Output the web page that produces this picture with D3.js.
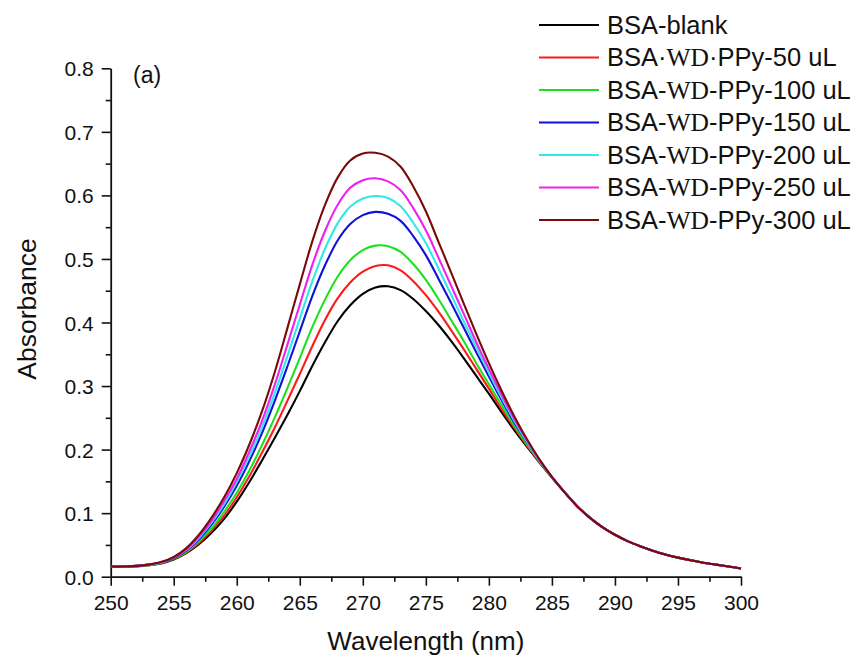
<!DOCTYPE html>
<html>
<head>
<meta charset="utf-8">
<script src="https://cdn.jsdelivr.net/npm/d3@7"></script>
<style>
  html, body { margin: 0; padding: 0; background: #fff; }
  svg { display: block; font-family: "Liberation Sans", Arial, sans-serif; }
</style>
</head>
<body>
<svg id="chart" width="861" height="659"></svg>
<script>
// UV-Vis absorbance spectra of BSA with increasing WD-PPy additions, 250-300 nm at 1 nm steps
const wavelengths = d3.range(250, 301, 1);

const bsaBlank = [0.016, 0.016, 0.016, 0.018, 0.021, 0.027, 0.037, 0.051, 0.069, 0.091,
  0.118, 0.149, 0.183, 0.218, 0.254, 0.292, 0.332, 0.369, 0.402, 0.427,
  0.445, 0.455, 0.457, 0.451, 0.437, 0.418, 0.396, 0.371, 0.344, 0.316,
  0.288, 0.259, 0.231, 0.205, 0.180, 0.156, 0.133, 0.111, 0.093, 0.078,
  0.066, 0.056, 0.048, 0.041, 0.035, 0.030, 0.026, 0.022, 0.019, 0.016, 0.013];
const wd50 = [0.016, 0.016, 0.016, 0.018, 0.021, 0.028, 0.038, 0.053, 0.073, 0.096,
  0.125, 0.158, 0.195, 0.234, 0.276, 0.319, 0.363, 0.404, 0.438, 0.463,
  0.480, 0.489, 0.490, 0.482, 0.465, 0.443, 0.417, 0.388, 0.358, 0.327,
  0.296, 0.264, 0.235, 0.207, 0.181, 0.156, 0.133, 0.111, 0.093, 0.078,
  0.066, 0.056, 0.048, 0.041, 0.035, 0.030, 0.026, 0.022, 0.019, 0.016, 0.013];
const wd100 = [0.016, 0.016, 0.016, 0.018, 0.022, 0.028, 0.039, 0.056, 0.076, 0.102,
  0.132, 0.167, 0.207, 0.250, 0.296, 0.344, 0.393, 0.436, 0.472, 0.498,
  0.514, 0.521, 0.520, 0.511, 0.492, 0.467, 0.437, 0.404, 0.371, 0.336,
  0.303, 0.270, 0.238, 0.209, 0.182, 0.156, 0.133, 0.111, 0.093, 0.078,
  0.066, 0.056, 0.048, 0.041, 0.035, 0.030, 0.026, 0.022, 0.019, 0.016, 0.013];
const wd150 = [0.016, 0.016, 0.017, 0.019, 0.022, 0.029, 0.041, 0.059, 0.082, 0.110,
  0.143, 0.182, 0.226, 0.276, 0.330, 0.386, 0.442, 0.490, 0.529, 0.555,
  0.569, 0.574, 0.571, 0.560, 0.536, 0.506, 0.469, 0.431, 0.392, 0.353,
  0.315, 0.278, 0.243, 0.212, 0.183, 0.157, 0.133, 0.111, 0.093, 0.078,
  0.066, 0.056, 0.048, 0.041, 0.035, 0.030, 0.026, 0.022, 0.019, 0.016, 0.013];
const wd200 = [0.016, 0.016, 0.017, 0.019, 0.022, 0.030, 0.042, 0.061, 0.085, 0.114,
  0.149, 0.189, 0.235, 0.288, 0.346, 0.406, 0.465, 0.516, 0.556, 0.582,
  0.595, 0.599, 0.596, 0.583, 0.557, 0.525, 0.485, 0.444, 0.402, 0.361,
  0.321, 0.282, 0.246, 0.213, 0.183, 0.157, 0.133, 0.111, 0.093, 0.078,
  0.066, 0.056, 0.048, 0.041, 0.035, 0.030, 0.026, 0.022, 0.019, 0.016, 0.013];
const wd250 = [0.016, 0.016, 0.017, 0.019, 0.023, 0.030, 0.043, 0.063, 0.088, 0.119,
  0.154, 0.197, 0.245, 0.301, 0.364, 0.428, 0.491, 0.544, 0.585, 0.612,
  0.624, 0.627, 0.622, 0.608, 0.580, 0.545, 0.502, 0.458, 0.414, 0.369,
  0.327, 0.287, 0.249, 0.215, 0.184, 0.157, 0.133, 0.111, 0.093, 0.078,
  0.066, 0.056, 0.048, 0.041, 0.035, 0.030, 0.026, 0.022, 0.019, 0.016, 0.013];
const wd300 = [0.016, 0.016, 0.017, 0.019, 0.023, 0.031, 0.045, 0.066, 0.093, 0.125,
  0.163, 0.208, 0.260, 0.321, 0.390, 0.460, 0.528, 0.585, 0.628, 0.655,
  0.666, 0.667, 0.661, 0.645, 0.614, 0.575, 0.527, 0.479, 0.430, 0.382,
  0.336, 0.293, 0.253, 0.217, 0.185, 0.157, 0.133, 0.111, 0.093, 0.078,
  0.066, 0.056, 0.048, 0.041, 0.035, 0.030, 0.026, 0.022, 0.019, 0.016, 0.013];

const seriesValues = [bsaBlank, wd50, wd100, wd150, wd200, wd250, wd300];
const doses = ["blank", "50 uL", "100 uL", "150 uL", "200 uL", "250 uL", "300 uL"];
const lineColors = ["#000000", "#ff1a1a", "#1ee01e", "#1010d8", "#30e8e8", "#f020f0", "#7a0a0a"];

const xTicks = [250, 255, 260, 265, 270, 275, 280, 285, 290, 295, 300];
const yTicks = [0.0, 0.1, 0.2, 0.3, 0.4, 0.5, 0.6, 0.7, 0.8];

const svg = d3.select("#chart");

const x = d3.scaleLinear().domain([250, 300]).range([110.7, 741]);
const y = d3.scaleLinear().domain([0, 0.8]).range([576.7, 68.3]);

// minor ticks halfway between majors
const xMinor = d3.range(252.5, 300, 5);
const yMinor = d3.range(0.05, 0.8, 0.1);

const axisColor = "#111";

// x axis
const gx = svg.append("g").attr("transform", `translate(0,${y(0)})`);
gx.call(d3.axisBottom(x).tickValues(xTicks).tickFormat(d3.format("d")).tickSize(9).tickSizeOuter(0).tickPadding(6));
gx.append("g").call(d3.axisBottom(x).tickValues(xMinor).tickSize(5).tickFormat("").tickSizeOuter(0))
  .select(".domain").remove();

// y axis
const gy = svg.append("g").attr("transform", `translate(${x(250)},0)`);
gy.call(d3.axisLeft(y).tickValues(yTicks).tickFormat(d3.format(".1f")).tickSize(9).tickSizeOuter(0).tickPadding(8));
gy.append("g").call(d3.axisLeft(y).tickValues(yMinor).tickSize(5).tickFormat("").tickSizeOuter(0))
  .select(".domain").remove();

svg.selectAll(".domain").attr("stroke", axisColor).attr("stroke-width", 1.8);
svg.selectAll(".tick line").attr("stroke", axisColor).attr("stroke-width", 1.6);
svg.selectAll(".tick text")
  .attr("fill", "#111")
  .style("font-family", "'Liberation Sans', Arial, sans-serif")
  .style("font-size", "21px");
gx.selectAll(".tick text").attr("dy", "0.88em");
gy.selectAll(".tick text").attr("dy", "0.36em");

// axis titles
svg.append("text")
  .attr("x", (x(250) + x(300)) / 2)
  .attr("y", 650)
  .attr("text-anchor", "middle")
  .attr("font-size", 26)
  .attr("fill", "#111")
  .text("Wavelength (nm)");

svg.append("text")
  .attr("transform", "translate(36,309) rotate(-90)")
  .attr("text-anchor", "middle")
  .attr("font-size", 26.5)
  .attr("fill", "#111")
  .text("Absorbance");

svg.append("text")
  .attr("x", 133)
  .attr("y", 83)
  .attr("font-size", 23)
  .attr("fill", "#111")
  .text("(a)");

// spectra
const line = d3.line()
  .x((d, i) => x(wavelengths[i]))
  .y(d => y(d))
  .curve(d3.curveCatmullRom.alpha(0.5));

svg.append("g")
  .selectAll("path")
  .data(seriesValues)
  .join("path")
  .attr("d", d => line(d))
  .attr("fill", "none")
  .attr("stroke", (d, i) => lineColors[i])
  .attr("stroke-width", 2.1)
  .attr("stroke-linejoin", "round");

// legend
const legend = svg.append("g").attr("transform", "translate(539,25)");
const rowGap = 32.5;
doses.forEach((dose, i) => {
  const row = legend.append("g").attr("transform", `translate(0,${i * rowGap})`);
  row.append("line")
    .attr("x1", 0).attr("x2", 60)
    .attr("y1", 0).attr("y2", 0)
    .attr("stroke", lineColors[i])
    .attr("stroke-width", 2);
  const t = row.append("text")
    .attr("x", 68)
    .attr("y", 8.8)
    .attr("font-size", 25.5)
    .attr("fill", "#111");
  if (i === 0) {
    t.text("BSA-" + dose);
  } else {
    const sep = i === 1 ? "\u00b7" : "-";
    t.append("tspan").text("BSA" + sep);
    t.append("tspan")
      .style("font-family", "'Liberation Serif', 'Times New Roman', serif")
      .text("WD");
    t.append("tspan").text(sep + "PPy-" + dose);
  }
});
</script>
</body>
</html>
